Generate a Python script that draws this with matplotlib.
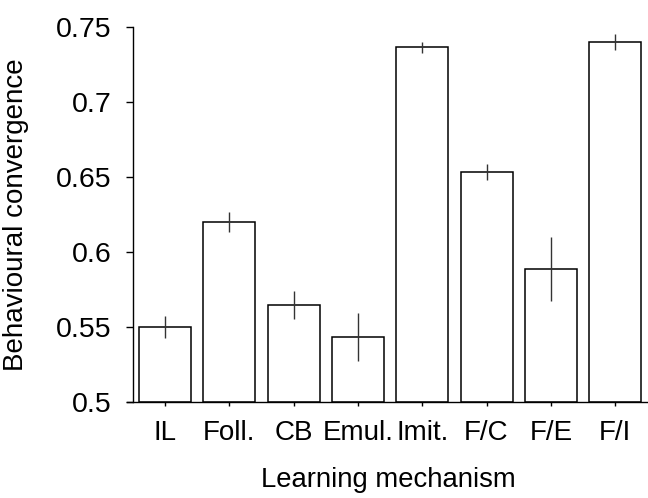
import matplotlib
matplotlib.use('Agg')
import matplotlib.pyplot as plt

# data
mechanisms = ['IL', 'Foll.', 'CB', 'Emul.', 'Imit.', 'F/C', 'F/E', 'F/I']
convergence = [0.550, 0.620, 0.5645, 0.5433, 0.7365, 0.6533, 0.5887, 0.7398]
err = [0.0075, 0.0067, 0.0095, 0.0157, 0.0038, 0.0052, 0.0213, 0.0052]
yticks = [0.5, 0.55, 0.6, 0.65, 0.7, 0.75]
ytick_labels = ['0.5', '0.55', '0.6', '0.65', '0.7', '0.75']

plt.rcParams['font.family'] = ['Liberation Sans', 'DejaVu Sans']

fig = plt.figure(figsize=(6.48, 4.98), dpi=100)
ax = fig.add_axes([127 / 648, 96 / 498, 521 / 648, 375 / 498])

x = list(range(len(mechanisms)))
ax.bar(x, [v - 0.5 for v in convergence], bottom=0.5, width=0.81,
       color='white', edgecolor='black', linewidth=1.1, zorder=2)
ax.errorbar(x, convergence, yerr=err, fmt='none', ecolor='#333333',
            elinewidth=1.0, capsize=0, zorder=3)

ax.set_xlim(-0.59, 7.51)
ax.set_ylim(0.5, 0.75)

ax.spines['top'].set_visible(False)
ax.spines['right'].set_visible(False)
ax.spines['left'].set_position(('data', -0.5))
ax.spines['left'].set_linewidth(1.0)
ax.spines['bottom'].set_linewidth(1.0)

ax.set_yticks(yticks)
ax.set_yticklabels(ytick_labels)
ax.set_xticks(x)
ax.set_xticklabels(mechanisms)
ax.tick_params(axis='y', direction='out', length=5, width=1.0, pad=10, labelsize=20.5)
ax.tick_params(axis='x', direction='out', length=3, width=1.0, pad=10, labelsize=20)

fig.text(16 / 648, 1 - 214.5 / 498, 'Behavioural convergence', rotation=90,
         ha='center', va='center', fontsize=20)
fig.text(388 / 648, 11 / 498, 'Learning mechanism', ha='center',
         va='baseline', fontsize=19.8)

plt.savefig('out.png', dpi=100)
